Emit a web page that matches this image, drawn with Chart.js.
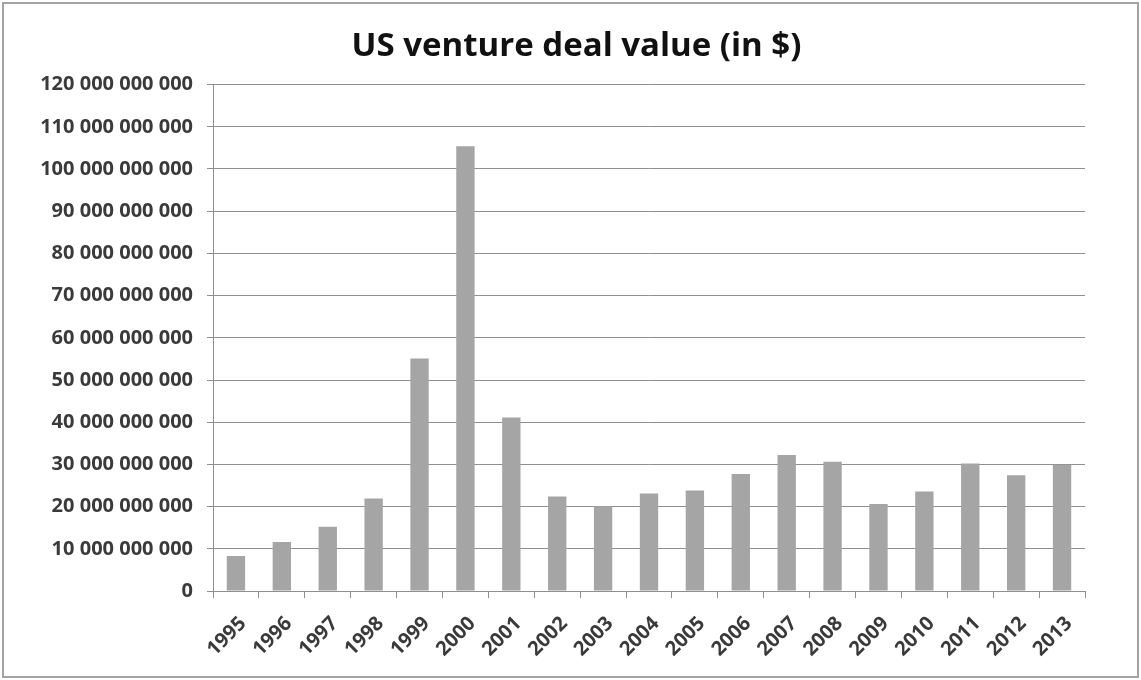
<!DOCTYPE html>
<html>
<head>
<meta charset="utf-8">
<title>US venture deal value</title>
<script src="https://cdn.jsdelivr.net/npm/chart.js@4.4.1/dist/chart.umd.min.js"></script>
<style>
  html, body { margin: 0; padding: 0; background: #fff; }
  #wrap { position: relative; width: 1141px; height: 680px; }
  #frame {
    position: absolute; left: 2px; top: 2px; right: 2px; bottom: 2px;
    border: 2px solid #a3a3a3; pointer-events: none;
  }
</style>
</head>
<body>
<div id="wrap">
  <canvas id="deals" width="1141" height="680"></canvas>
  <div id="frame"></div>
</div>
<script>
// deal value per year, in dollars
const years = ['1995', '1996', '1997', '1998', '1999', '2000', '2001', '2002', '2003', '2004',
  '2005', '2006', '2007', '2008', '2009', '2010', '2011', '2012', '2013'];
const dealValues = [8.3e9, 11.6e9, 15.2e9, 21.9e9, 55.1e9, 105.4e9, 41.1e9, 22.4e9, 20.1e9, 23.1e9,
  23.8e9, 27.7e9, 32.2e9, 30.6e9, 20.6e9, 23.6e9, 30.2e9, 27.4e9, 29.9e9];
const yMax = 120e9;
const yStep = 10e9;

const axisGray = '#8f8f8f';
const labelFont = { family: 'Open Sans', size: 20, weight: 'bold' };

// 120000000000 -> "120 000 000 000"
function spaced(v) {
  return String(Math.round(v)).replace(/\B(?=(\d{3})+(?!\d))/g, ' ');
}

// nudge the title a bit to the right of the plot centre
const titleShift = {
  id: 'titleShift',
  afterLayout(chart) {
    const t = chart.titleBlock;
    if (t) { t.left += 29; t.right += 29; }
  }
};

new Chart(document.getElementById('deals'), {
  type: 'bar',
  data: {
    labels: years,
    datasets: [{
      data: dealValues,
      backgroundColor: '#a5a5a5',
      borderWidth: 0,
      barPercentage: 0.4,
      categoryPercentage: 1.0
    }]
  },
  options: {
    responsive: false,
    animation: false,
    layout: { padding: { top: 0, left: 10, right: 56, bottom: 9 } },
    plugins: {
      legend: { display: false },
      tooltip: { enabled: false },
      title: {
        display: true,
        text: 'US venture deal value (in $)',
        color: '#111',
        font: { family: 'Open Sans', size: 33, weight: 'bold' },
        padding: { top: 27, bottom: 18 }
      }
    },
    scales: {
      x: {
        grid: { display: true, drawOnChartArea: false, drawTicks: true, tickLength: 7, color: axisGray, offset: true },
        border: { color: axisGray },
        ticks: {
          minRotation: 45, maxRotation: 45, padding: 14, labelOffset: 7,
          color: '#3a3a3a', font: labelFont, autoSkip: false
        },
        afterFit(scale) { scale.height = 80; }
      },
      y: {
        min: 0,
        max: yMax,
        grid: { color: axisGray, tickLength: 6 },
        border: { color: axisGray },
        ticks: { stepSize: yStep, padding: 14, color: '#3a3a3a', font: labelFont, callback: v => spaced(v) },
        afterFit(scale) { scale.width = 203; }
      }
    }
  },
  plugins: [titleShift]
});
</script>
</body>
</html>
